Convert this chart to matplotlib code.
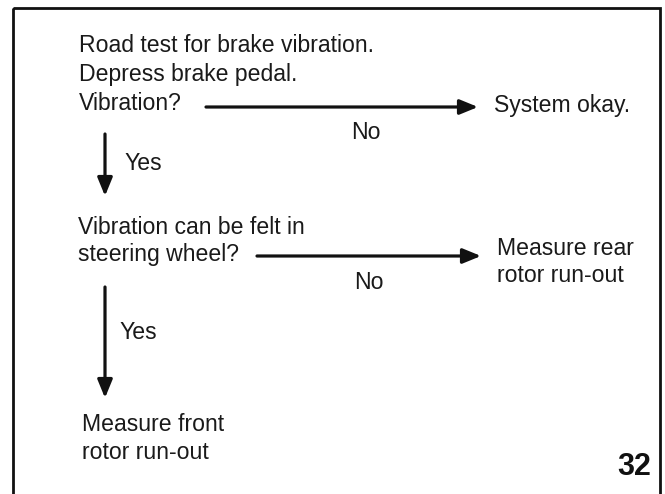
import matplotlib.pyplot as plt
from matplotlib.patches import Rectangle

# flowchart text
step1 = ["Road test for brake vibration.", "Depress brake pedal.", "Vibration?"]
step1_no = "System okay."
step2 = ["Vibration can be felt in", "steering wheel?"]
step2_no = ["Measure rear", "rotor run-out"]
step2_yes = ["Measure front", "rotor run-out"]
branch_yes = "Yes"
branch_no = "No"
page_num = "32"

plt.rcParams['font.family'] = ['Liberation Sans', 'DejaVu Sans']

fig = plt.figure(figsize=(6.65, 4.94), dpi=100)
ax = fig.add_axes([0, 0, 1, 1])
ax.set_xlim(0, 665)
ax.set_ylim(494, 0)
ax.axis('off')

# page frame (bottom edge runs off the picture)
ax.add_patch(Rectangle((13, 8), 647, 500, fill=False, lw=2.0, ec='#111111'))

fs = 16.6
tc = '#1a1a1a'

def lines(x, ys, txts):
    for y, t in zip(ys, txts):
        ax.text(x, y, t, fontsize=fs, color=tc, va='center', ha='left')

def arrow(x0, y0, x1, y1):
    ax.annotate('', xy=(x1, y1), xytext=(x0, y0),
                arrowprops=dict(arrowstyle='-|>,head_length=1.1,head_width=0.45',
                                lw=2.3, color='#111111', shrinkA=0, shrinkB=0))

lines(79, [45, 74, 103], step1)
arrow(206, 107, 478, 107)
ax.text(494, 105, step1_no, fontsize=fs, color=tc, va='center', ha='left')
ax.text(366, 132, branch_no, fontsize=fs, color=tc, va='center', ha='center')

arrow(105, 134, 105, 196)
ax.text(124, 163, branch_yes, fontsize=fs, color=tc, va='center', ha='left')

lines(78, [227, 254], step2)
arrow(257, 256, 481, 256)
lines(497, [248, 275], step2_no)
ax.text(369, 282, branch_no, fontsize=fs, color=tc, va='center', ha='center')

arrow(105, 287, 105, 398)
ax.text(119, 332, branch_yes, fontsize=fs, color=tc, va='center', ha='left')

lines(82, [424, 452], step2_yes)

ax.text(651, 467, page_num, fontsize=22, fontweight='bold', color='#111111',
        va='center', ha='right', family=['Liberation Sans Narrow', 'Liberation Sans'])

fig.savefig('out.png', dpi=100)
